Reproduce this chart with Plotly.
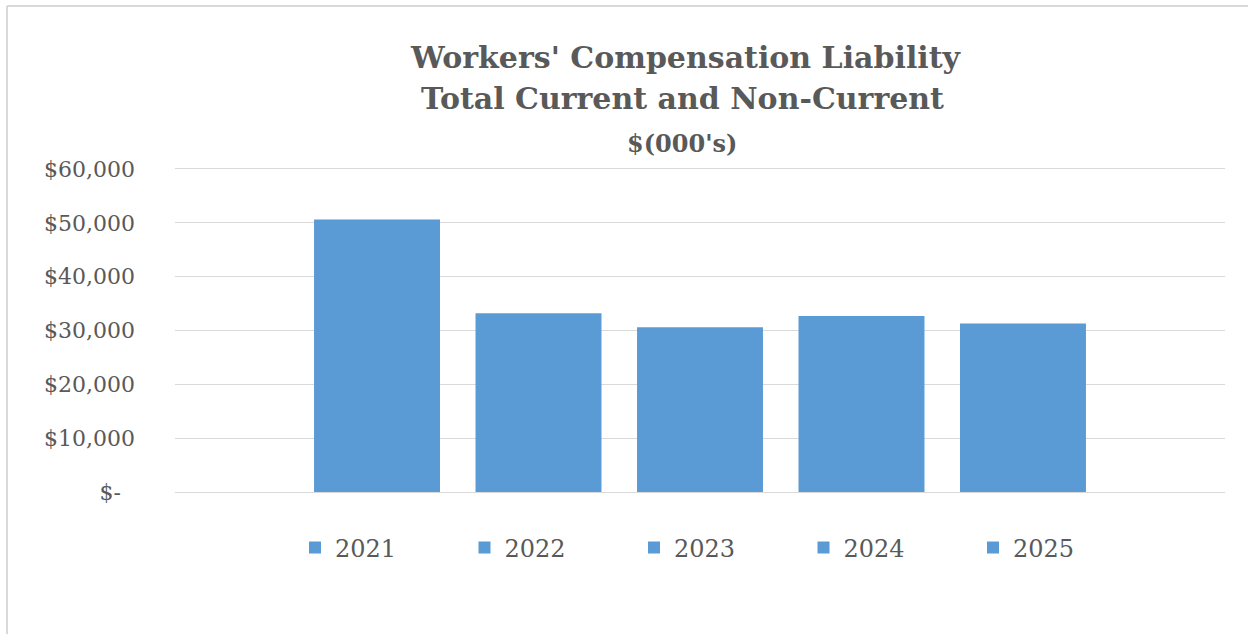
import plotly.graph_objects as go

years = ["2021", "2022", "2023", "2024", "2025"]
liability = [50600, 33200, 30600, 32700, 31300]
tick_values = [0, 10000, 20000, 30000, 40000, 50000, 60000]
tick_labels = ["$-\u00a0\u00a0", "$10,000", "$20,000", "$30,000", "$40,000", "$50,000", "$60,000"]
title_lines = ["Workers' Compensation Liability", "Total Current and Non-Current", "$(000's)"]

bar_color = "#5b9bd5"
text_color = "#595959"
grid_color = "#d9d9d9"

fig = go.Figure()
for yr, val in zip(years, liability):
    fig.add_trace(go.Bar(name=yr, x=["Total"], y=[val], marker=dict(color=bar_color, line=dict(width=0))))

W, H = 1248, 634
L, R, T, B = 175, 23, 169, 142
ph = H - T - B
pw = W - L - R

def py(p):
    return (H - B - p) / ph

def px(p):
    return (p - L) / pw

fig.update_layout(
    width=W, height=H,
    margin=dict(l=L, r=R, t=T, b=B, pad=0),
    paper_bgcolor="white", plot_bgcolor="white",
    barmode="group", bargap=0.231, bargroupgap=0.22,
    showlegend=True,
    legend=dict(orientation="h", x=px(719), xanchor="center", y=py(548), yanchor="middle",
                font=dict(family="DejaVu Serif", size=24, color=text_color),
                entrywidth=124.5, entrywidthmode="pixels", itemwidth=30, traceorder="normal"),
    xaxis=dict(showticklabels=False, showgrid=False, zeroline=False, showline=True, mirror=True,
               linecolor=grid_color, linewidth=1, ticks=""),
    yaxis=dict(range=[0, 60000], tickvals=tick_values, ticktext=tick_labels,
               showgrid=True, gridcolor=grid_color, gridwidth=1, zeroline=False,
               showline=False, ticks="", ticklabelstandoff=39,
               tickfont=dict(family="DejaVu Serif", size=22, color=text_color)),
    font=dict(family="DejaVu Serif", color=text_color),
)

fig.add_annotation(text="<b>" + title_lines[0] + "</b>", xref="paper", yref="paper",
                   x=px(686), y=py(57), xanchor="center", yanchor="middle", showarrow=False,
                   font=dict(family="DejaVu Serif", size=30, color=text_color))
fig.add_annotation(text="<b>" + title_lines[1] + "</b>", xref="paper", yref="paper",
                   x=px(682), y=py(99), xanchor="center", yanchor="middle", showarrow=False,
                   font=dict(family="DejaVu Serif", size=30, color=text_color))
fig.add_annotation(text="<b>" + title_lines[2] + "</b>", xref="paper", yref="paper",
                   x=px(682), y=py(143), xanchor="center", yanchor="middle", showarrow=False,
                   font=dict(family="DejaVu Serif", size=24, color=text_color))

# chart frame (left and top edges)
fig.add_shape(type="line", xref="paper", yref="paper", x0=px(7), x1=px(7), y0=py(6), y1=py(634),
              line=dict(color=grid_color, width=2))
fig.add_shape(type="line", xref="paper", yref="paper", x0=px(7), x1=px(1248), y0=py(6), y1=py(6),
              line=dict(color=grid_color, width=2))

fig.write_html("out.html", config={"displayModeBar": False},
               post_script="document.body.style.margin='0';document.body.style.overflow='hidden';")
